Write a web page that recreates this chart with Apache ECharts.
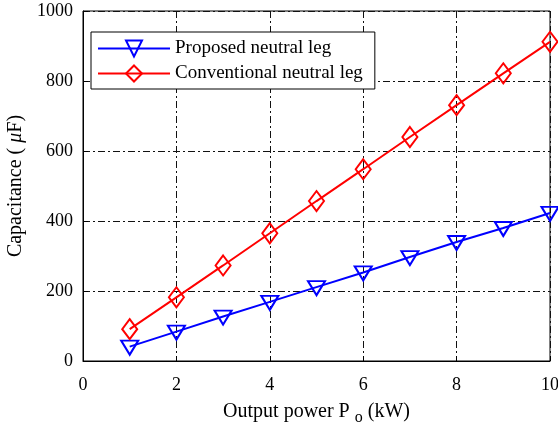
<!DOCTYPE html>
<html><head><meta charset="utf-8">
<script src="https://cdn.jsdelivr.net/npm/echarts@6/dist/echarts.min.js"></script>
<style>html,body{margin:0;padding:0;background:#fff}#c{width:558px;height:425px}</style>
</head><body><div id="c"></div>
<script>
const powerKW = [1, 2, 3, 4, 5, 6, 7, 8, 9, 10];
const proposed = [41, 84, 127, 169, 211, 253, 297, 340, 380, 423];
const conventional = [91, 182, 273, 365, 457, 548, 640, 731, 822, 912];
const seriesNames = ['Proposed neutral leg', 'Conventional neutral leg'];
const xTicks = [0, 2, 4, 6, 8, 10];
const yTicks = [0, 200, 400, 600, 800, 1000];

const font = 'Liberation Serif, Times New Roman, serif';
const chart = echarts.init(document.getElementById('c'), null, {renderer: 'canvas'});
const pair = (xs, ys) => xs.map((x, i) => [x, ys[i]]);
const gridLine = {show: true, lineStyle: {color: '#111', width: 1, type: [7, 3, 2, 3]}};
chart.setOption({
  animation: false,
  backgroundColor: '#fff',
  grid: {left: 83, right: 8, top: 11, bottom: 64, containLabel: false, outerBoundsMode: 'none',
    show: true, borderColor: '#000', borderWidth: 1, backgroundColor: 'transparent'},
  legend: {
    left: 91, top: 32, orient: 'vertical',
    backgroundColor: '#fff', borderColor: '#000', borderWidth: 1,
    padding: [7, 12, 6, 6], itemGap: 6,
    itemWidth: 72, itemHeight: 20,
    textStyle: {fontFamily: font, fontSize: 19, color: '#000'},
    data: seriesNames
  },
  xAxis: {
    type: 'value', min: xTicks[0], max: xTicks[xTicks.length - 1], interval: 2,
    axisLine: {show: true, lineStyle: {color: '#000'}},
    axisTick: {show: true, inside: true, length: 5, lineStyle: {color: '#000'}},
    axisLabel: {fontFamily: font, fontSize: 18, color: '#000', margin: 15, formatter: v => String(v)},
    splitLine: gridLine,
    name: 'Output power P {sub|o} (kW)', nameLocation: 'middle', nameGap: 37,
    nameTextStyle: {fontFamily: font, fontSize: 20, color: '#000',
      rich: {sub: {fontFamily: font, fontSize: 16, color: '#000', verticalAlign: 'bottom', padding: [12, 0, 0, 0]}}}
  },
  yAxis: {
    type: 'value', min: yTicks[0], max: yTicks[yTicks.length - 1], interval: 200,
    axisLine: {show: true, lineStyle: {color: '#000'}},
    axisTick: {show: true, inside: true, length: 5, lineStyle: {color: '#000'}},
    axisLabel: {fontFamily: font, fontSize: 18, color: '#000', margin: 10, formatter: v => String(v)},
    splitLine: gridLine,
    name: 'Capacitance ( {it|μ}F)', nameLocation: 'middle', nameGap: 54,
    nameTextStyle: {fontFamily: font, fontSize: 20, color: '#000',
      rich: {it: {fontFamily: font, fontSize: 20, fontStyle: 'italic', color: '#000'}}}
  },
  series: [
    {name: seriesNames[0], type: 'line', data: pair(powerKW, proposed),
      symbol: 'triangle', symbolRotate: 180, symbolSize: [17, 14], symbolOffset: [0, 1],
      lineStyle: {color: '#0000ff', width: 2}, itemStyle: {color: 'rgba(255,255,255,0)', borderColor: '#0000ff', borderWidth: 2},
      color: '#0000ff', z: 3},
    {name: seriesNames[1], type: 'line', data: pair(powerKW, conventional),
      symbol: 'diamond', symbolSize: [15, 20],
      lineStyle: {color: '#ff0000', width: 2}, itemStyle: {color: 'rgba(255,255,255,0)', borderColor: '#ff0000', borderWidth: 2},
      color: '#ff0000', z: 3}
  ]
});
</script></body></html>
